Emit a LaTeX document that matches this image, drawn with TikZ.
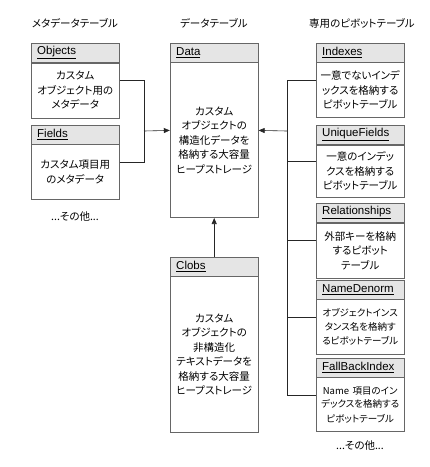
\documentclass[tikz,border=0pt]{standalone}
\usepackage{fontspec}
\setmainfont{Liberation Sans}
\newfontfamily\jp{Noto Sans CJK JP}[RawFeature={+palt}]
\usetikzlibrary{fit,arrows.meta}

\tikzset{
    tblhead/.style={draw=black!60, fill=black!10, anchor=north west,
        minimum width=88pt, minimum height=19pt, inner xsep=6pt,
        text width=76pt, align=left, font=\fontsize{11.5}{13}\selectfont},
    tblbody/.style={draw=black!60, fill=white, anchor=north,
        minimum width=88pt, inner xsep=2pt, text width=84pt,
        align=center, font=\jp\fontsize{10.5}{14.5}\selectfont},
    coltitle/.style={font=\jp\fontsize{10.5}{12}\selectfont},
    conn/.style={draw=black!85, line width=0.6pt},
    tip/.style={-{Triangle[length=6pt,width=5pt]}}
}

% name, x, top, bottom, title, body
\newcommand\dbtable[6]{
    \node[tblhead] (#1-h) at (#2,#3) {\underline{#5}};
    \node[tblbody, minimum height={#4-#3-19}] (#1-b) at (#1-h.south) {#6};
    \node[fit=(#1-h)(#1-b), inner sep=0pt] (#1) {};
}

\begin{document}
\begin{tikzpicture}[x=1pt,y=-1pt]
    \useasboundingbox (0,0) rectangle (430,467);

    \node[coltitle] (t-meta) at (75,23) {メタデータテーブル};
    \node[coltitle] (t-data) at (214,23) {データテーブル};
    \node[coltitle] (t-pivot) at (362,23) {専用のピボットテーブル};

    % metadata
    \dbtable{obj}{31}{43}{117}{Objects}{カスタム\\オブジェクト用の\\メタデータ}
    \dbtable{fld}{31}{125}{199}{Fields}{カスタム項目用\\のメタデータ}
    \node[coltitle] (m-etc) at (75,217) {...その他...};

    % data
    \dbtable{data}{170}{43}{217}{Data}{カスタム\\オブジェクトの\\構造化データを\\格納する大容量\\ヒープストレージ}
    \dbtable{clob}{170}{257}{432}{Clobs}{カスタム\\オブジェクトの\\非構造化\\テキストデータを\\格納する大容量\\ヒープストレージ\\[6pt]}

    % pivot
    \dbtable{idx}{316}{43}{117}{Indexes}{一意でないインデ\\ックスを格納する\\ピボットテーブル}
    \dbtable{uniq}{316}{125}{196}{UniqueFields}{一意のインデッ\\クスを格納する\\ピボットテーブル}
    \dbtable{rel}{316}{203}{277}{Relationships}{外部キーを格納\\するピボット\\テーブル}
    \dbtable{nd}{316}{280}{354}{NameDenorm}{\fontsize{9.5}{13.5}\selectfont オブジェクトインス\\タンス名を格納す\\るピボットテーブル}
    \dbtable{fbi}{316}{358}{431}{FallBackIndex}{\fontsize{9.5}{13.5}\selectfont Name 項目のイン\\デックスを格納する\\ピボットテーブル}
    \node[coltitle] (p-etc) at (360,446) {...その他...};

    \coordinate (ljoin) at (144,131);
    \coordinate (rjoin) at (287,131);

    \foreach \t in {obj,fld}
        \path[conn] (\t.east) -| (ljoin);
    \path[conn,tip] (ljoin) -- (data.west);

    \foreach \t in {idx,uniq,rel,nd,fbi}
        \path[conn] (\t.west) -| (rjoin);
    \path[conn,tip] (rjoin) -- (data.east);

    \path[conn,tip] (clob.north) -- (data.south);

\end{tikzpicture}
\end{document}
